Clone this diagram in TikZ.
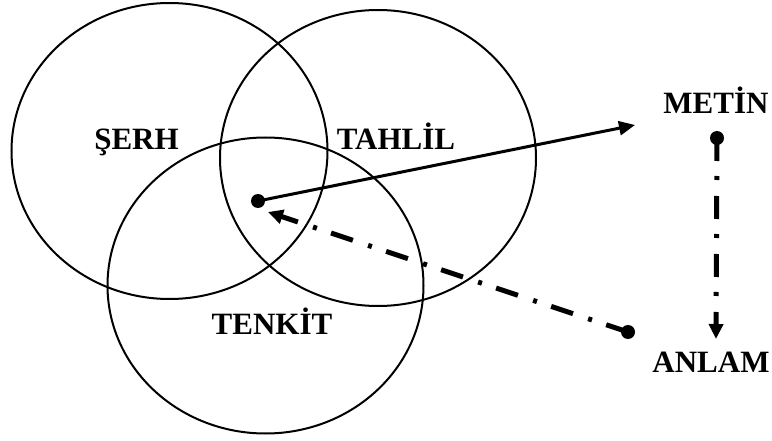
\documentclass[tikz,border=0pt]{standalone}
\usepackage{fontspec}
\setmainfont{Liberation Serif}
\usetikzlibrary{arrows.meta}
\tikzset{
  ring/.style={draw, line width=2pt},
  word/.style={font=\fontsize{31}{36}\selectfont\bfseries, anchor=base, inner sep=0pt},
  blob/.style={circle, fill=black, inner sep=0pt, minimum size=14pt},
  solidarrow/.style={line width=3pt, -{Triangle[length=16pt,width=14pt]}},
  dashdot/.style={line width=5pt, dash pattern=on 23pt off 15pt on 4pt off 16pt,
                  -{Triangle[length=15pt,width=14pt]}}
}
\begin{document}
\begin{tikzpicture}[x=1pt,y=-1pt]
  \useasboundingbox (0,0) rectangle (772,441);

  % three overlapping rings
  \draw[ring] (169.5,151) ellipse [x radius=158, y radius=148];
  \draw[ring] (378,158) ellipse [x radius=158, y radius=148];
  \draw[ring] (265.5,285.5) ellipse [x radius=158, y radius=148];

  % labels
  \node[word] (serh)   at (136.5,150) {ŞERH};
  \node[word] (tahlil) at (396,150)   {TAHLİL};
  \node[word] (tenkit) at (272,334)   {TENKİT};
  \node[word] (metin)  at (716,114)   {METİN};
  \node[word] (anlam)  at (711,372)   {ANLAM};

  % dots
  \node[blob] (core)  at (258,201) {};
  \node[blob] (mdot)  at (717,138) {};
  \node[blob] (adot)  at (628,332) {};

  % arrow ends
  \coordinate (totext) at (635,125);
  \coordinate (back)   at (268,212);
  \coordinate (tomean) at (716,339);

  % connectors
  \draw[solidarrow] (core.center) -- (totext);
  \draw[dashdot] (adot.center) -- (back);
  \draw[dashdot] (mdot.center) -- (tomean);
\end{tikzpicture}
\end{document}
